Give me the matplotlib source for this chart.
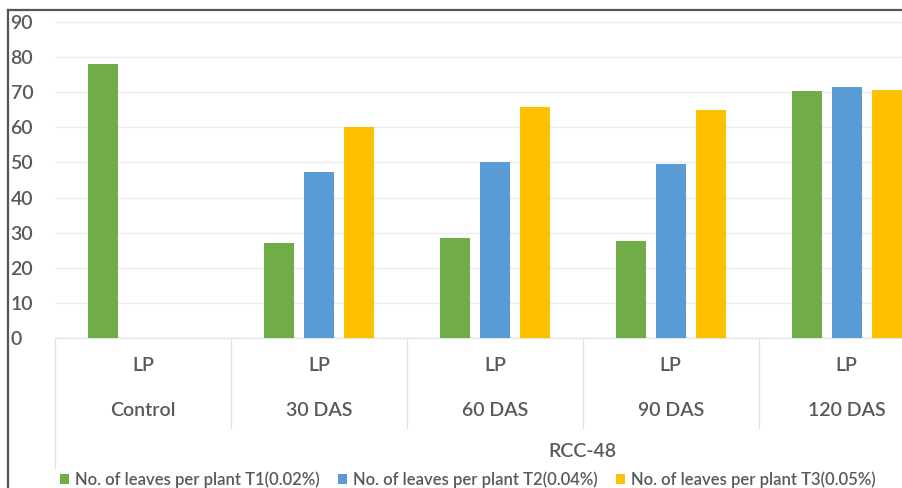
import numpy as np
import matplotlib.pyplot as plt
from matplotlib.lines import Line2D

plt.rcParams['font.family'] = ['Lato', 'DejaVu Sans']

categories = ['Control', '30 DAS', '60 DAS', '90 DAS', '120 DAS']
sub_label = 'LP'
group_label = 'RCC-48'
t1 = [78.0, 27.0, 28.5, 27.6, 70.4]
t2 = [np.nan, 47.3, 50.1, 49.6, 71.5]
t3 = [np.nan, 60.1, 65.8, 65.0, 70.7]
series_names = ['No. of leaves per plant T1(0.02%)',
                'No. of leaves per plant T2(0.04%)',
                'No. of leaves per plant T3(0.05%)']
colors = ['#70AD47', '#5B9BD5', '#FFC000']
text_col = '#595959'

fig = plt.figure(figsize=(9.03, 4.88), dpi=100)
ax = fig.add_axes([55 / 903, 1 - 338 / 488, 848 / 903, (338 - 22) / 488])

x = np.arange(len(categories))
w = 0.17
off = 0.227
for k, vals in enumerate([t1, t2, t3]):
    ax.bar(x + (k - 1) * off, np.array(vals, dtype=float), width=w,
           color=colors[k], label=series_names[k], zorder=3)

ax.set_xlim(-0.5, 4.32)
ax.set_ylim(0, 90)
ax.set_yticks(range(0, 91, 10))
ax.yaxis.grid(True, color='#ececec', linewidth=1, zorder=0)
ax.set_xticks([])
ax.tick_params(axis='y', length=0, labelsize=14, labelcolor=text_col, pad=32)
for lab in ax.get_yticklabels():
    lab.set_horizontalalignment('left')
    lab.set_fontweight('semibold')
for s in ['top', 'right', 'left']:
    ax.spines[s].set_visible(False)
ax.spines['bottom'].set_color('#e3e3e3')

# multi-level category axis
trans = ax.get_xaxis_transform()
for i, c in enumerate(categories):
    ax.text(i, -0.088, sub_label, transform=trans, ha='center', va='center',
            fontsize=14, color=text_col, fontweight='semibold')
    ax.text(i, -0.228, c, transform=trans, ha='center', va='center',
            fontsize=14, color=text_col, fontweight='semibold')
for b in np.arange(0.5, len(categories) - 0.5, 1):
    ax.add_line(Line2D([b, b], [0, -0.285], transform=trans, color='#e3e3e3',
                       linewidth=1, clip_on=False))
ax.add_line(Line2D([-0.5, -0.5], [0, -0.41], transform=trans, color='#e3e3e3',
                   linewidth=1, clip_on=False))
ax.text(2.5, -0.36, group_label, transform=trans, ha='center', va='center',
        fontsize=14, color=text_col, fontweight='semibold')

leg = fig.legend(loc='lower left', bbox_to_anchor=(53 / 903, -0.014), ncol=3,
                 frameon=False, fontsize=12, handlelength=0.55,
                 handleheight=0.55, handletextpad=0.35, columnspacing=1.1,
                 labelcolor=text_col, borderaxespad=0)
for t in leg.get_texts():
    t.set_fontweight('semibold')

# image frame (top and left edge)
fig.add_artist(Line2D([8 / 903, 1], [1 - 10 / 488, 1 - 10 / 488],
                      transform=fig.transFigure, color='#555555', linewidth=1.6))
fig.add_artist(Line2D([8 / 903, 8 / 903], [0, 1 - 10 / 488],
                      transform=fig.transFigure, color='#555555', linewidth=1.6))

fig.savefig('out.png', dpi=100)
